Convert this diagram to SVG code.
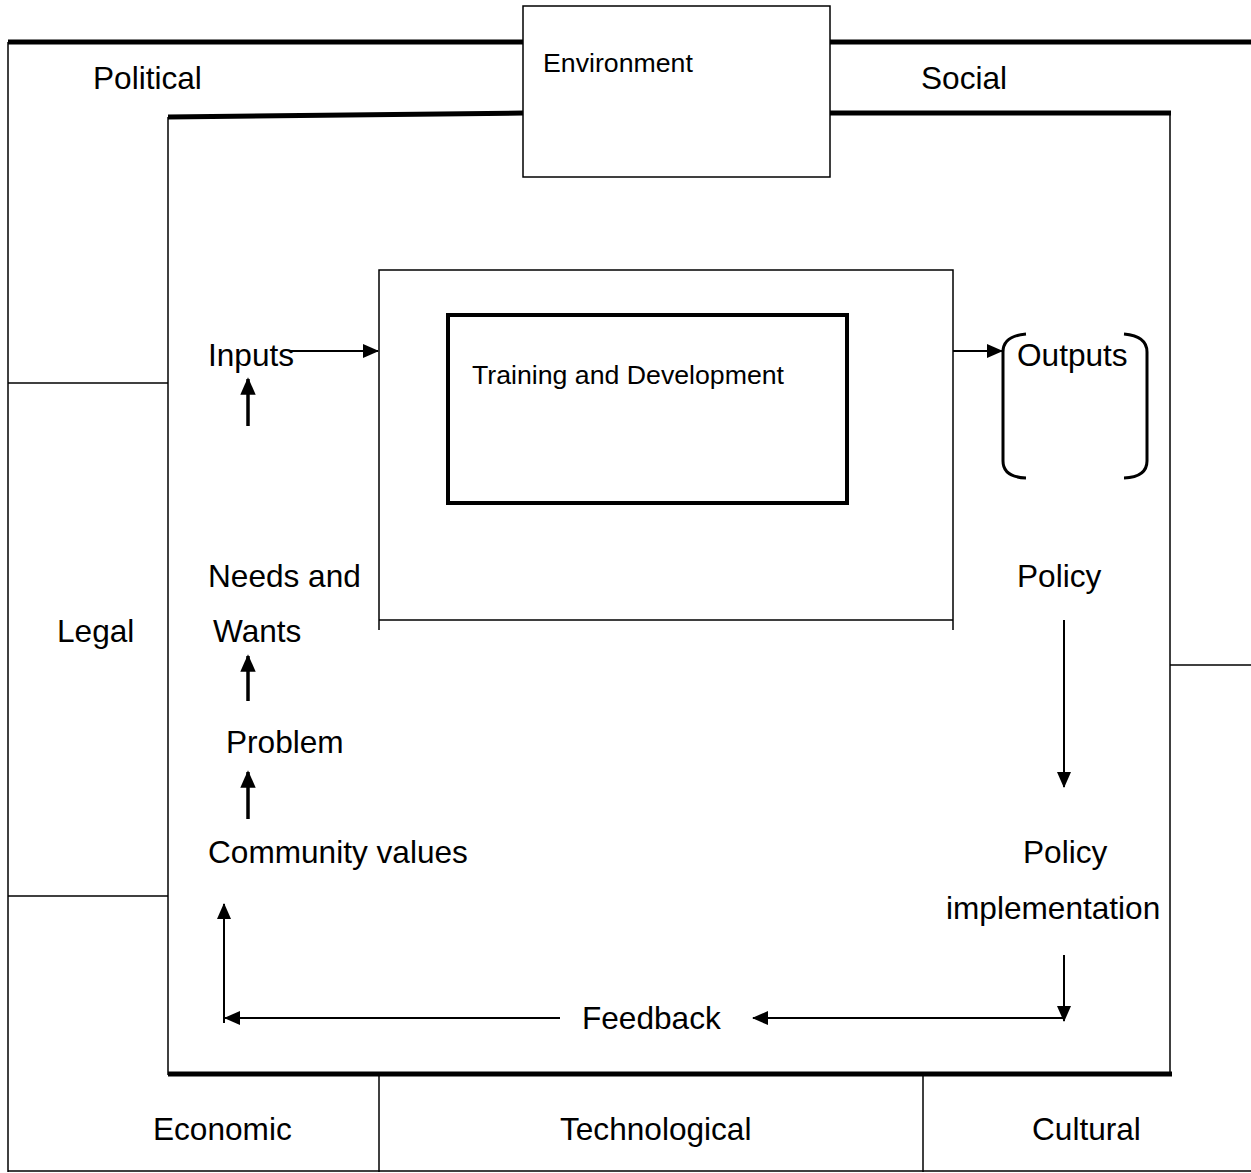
<svg xmlns="http://www.w3.org/2000/svg" width="1251" height="1173" viewBox="0 0 1251 1173">
<defs>
<style>
text{font-family:"Liberation Sans",Arial,sans-serif;fill:#000}
.lbl{font-size:31.6px}
.sm{font-size:26.7px}
.thin{stroke:#000;stroke-width:1.5;fill:none}
.thick{stroke:#000;stroke-width:5;fill:none}
.arr{stroke:#000;stroke-width:2;fill:none}
.arr3{stroke:#000;stroke-width:3.5;fill:none}
</style>
<marker id="ah" markerWidth="8" markerHeight="7" refX="7.5" refY="3.5" orient="auto" markerUnits="strokeWidth"><path d="M0,0 L8,3.5 L0,7 z" fill="#000"/></marker>
<marker id="ah3" markerWidth="5" markerHeight="4.4" refX="4.5" refY="2.2" orient="auto" markerUnits="strokeWidth"><path d="M0,0 L5,2.2 L0,4.4 z" fill="#000"/></marker>
</defs>
<rect width="1251" height="1173" fill="#fff"/>
<g id="outer-frame">
<line class="thin" x1="8" y1="42" x2="8" y2="1172"/>
<line class="thin" x1="8" y1="1171" x2="1251" y2="1171"/>
<line class="thick" x1="8" y1="42" x2="523" y2="42"/>
<line class="thick" x1="830" y1="42" x2="1251" y2="42"/>
<line class="thin" x1="8" y1="383" x2="168" y2="383"/>
<line class="thin" x1="8" y1="896" x2="168" y2="896"/>
<line class="thin" x1="1170" y1="665" x2="1251" y2="665"/>
<line class="thin" x1="379" y1="1075" x2="379" y2="1172"/>
<line class="thin" x1="923" y1="1075" x2="923" y2="1172"/>
</g>
<g id="inner-frame">
<line class="thin" x1="168" y1="117" x2="168" y2="1075"/>
<line class="thin" x1="1170" y1="113" x2="1170" y2="1075"/>
<line class="thick" x1="168" y1="117" x2="523" y2="113"/>
<line class="thick" x1="830" y1="113" x2="1171" y2="113"/>
<line class="thick" x1="168" y1="1074" x2="1172" y2="1074"/>
</g>
<g id="environment">
<rect x="523" y="6" width="307" height="171" fill="#fff" stroke="#000" stroke-width="1.5"/>
<text class="sm" x="543" y="72">Environment</text>
</g>
<g id="process-box">
<path class="thin" d="M379,630 V270 H953 V630 M379,620 H953"/>
</g>
<g id="training">
<rect x="448" y="315" width="399" height="188" fill="none" stroke="#000" stroke-width="4"/>
<text class="sm" x="472" y="384">Training and Development</text>
</g>
<g id="outputs">
<path stroke="#000" stroke-width="3" fill="none" d="M1026,334 Q1003,336 1003,352 V461 Q1003,477 1026,478 M1124,334 Q1147,336 1147,352 V461 Q1147,477 1124,478"/>
<text class="lbl" x="1017" y="366">Outputs</text>
</g>
<g id="labels">
<text class="lbl" x="93" y="89">Political</text>
<text class="lbl" x="921" y="89">Social</text>
<text class="lbl" x="57" y="642">Legal</text>
<text class="lbl" x="153" y="1140">Economic</text>
<text class="lbl" x="560" y="1140">Technological</text>
<text class="lbl" x="1032" y="1140">Cultural</text>
</g>
<g id="inputs"><text class="lbl" x="208" y="366">Inputs</text></g>
<g id="needs"><text class="lbl" x="208" y="587">Needs and</text><text class="lbl" x="213" y="642">Wants</text></g>
<g id="problem"><text class="lbl" x="226" y="753">Problem</text></g>
<g id="community"><text class="lbl" x="208" y="863">Community values</text></g>
<g id="policy"><text class="lbl" x="1017" y="587">Policy</text></g>
<g id="implementation"><text class="lbl" x="1023" y="863">Policy</text><text class="lbl" x="946" y="919">implementation</text></g>
<g id="feedback"><text class="lbl" x="582" y="1029">Feedback</text></g>
<g id="connectors">
<line class="arr" x1="290" y1="351" x2="378" y2="351" marker-end="url(#ah)"/>
<line class="arr" x1="953" y1="351" x2="1002" y2="351" marker-end="url(#ah)"/>
<line class="arr3" x1="248" y1="426" x2="248" y2="379" marker-end="url(#ah3)"/>
<line class="arr3" x1="248" y1="701" x2="248" y2="656" marker-end="url(#ah3)"/>
<line class="arr3" x1="248" y1="819" x2="248" y2="772" marker-end="url(#ah3)"/>
<line class="arr" x1="1064" y1="620" x2="1064" y2="787" marker-end="url(#ah)"/>
<line class="arr" x1="1064" y1="955" x2="1064" y2="1021" marker-end="url(#ah)"/>
<line class="arr" x1="1064" y1="1018" x2="753" y2="1018" marker-end="url(#ah)"/>
<line class="arr" x1="560" y1="1018" x2="225" y2="1018" marker-end="url(#ah)"/>
<line class="arr" x1="224" y1="1023" x2="224" y2="904" marker-end="url(#ah)"/>
</g>
</svg>
